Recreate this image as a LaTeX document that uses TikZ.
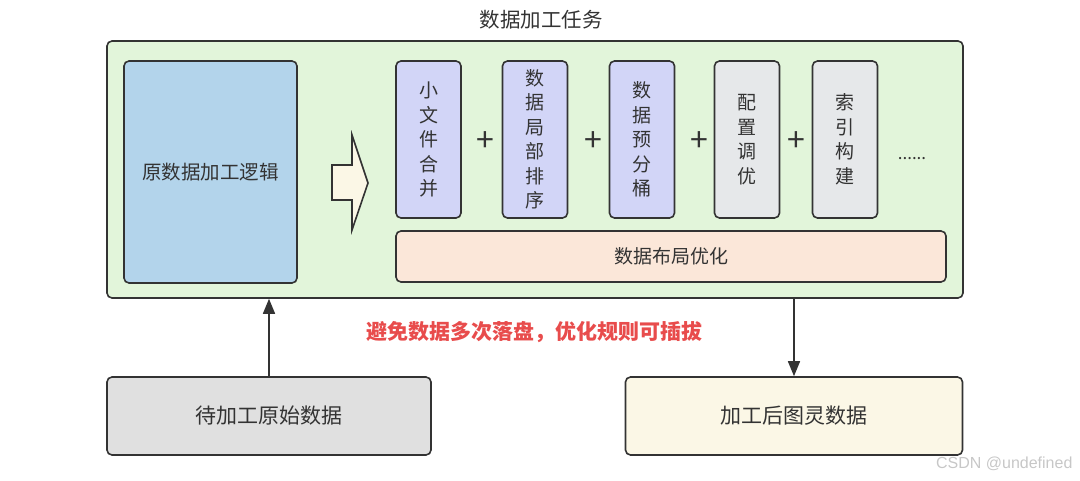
\documentclass[tikz,border=0pt]{standalone}
\usepackage{fontspec}
\setmainfont{Noto Sans CJK SC}
\newfontfamily\wmfont{Liberation Sans}
\usetikzlibrary{arrows.meta}
\definecolor{lc}{HTML}{333333}
\definecolor{greenbg}{HTML}{E2F5DA}
\definecolor{bluebg}{HTML}{B3D4EB}
\definecolor{lavbg}{HTML}{D2D5F7}
\definecolor{greybg}{HTML}{E6E8EA}
\definecolor{peachbg}{HTML}{FBE7D9}
\definecolor{creambg}{HTML}{FBF7E6}
\definecolor{graybox}{HTML}{E0E0E0}
\definecolor{redtxt}{HTML}{E84C4C}
\begin{document}
\begin{tikzpicture}[x=1pt,y=-1pt,
  box/.style={draw=lc, line width=1.6pt, rounded corners=5pt, text=lc, inner sep=0pt, align=center},
  vbox/.style={box, minimum width=65pt, minimum height=157pt, font=\fontsize{19}{24.5}\selectfont},
  plus/.style={text=lc, font=\fontsize{32}{32}\selectfont, inner sep=0pt},
  conn/.style={draw=lc, line width=1.6pt, -{Triangle[length=15pt,width=12pt]}}
]
\useasboundingbox (0,0) rectangle (1080,481);
\node[text=lc, font=\fontsize{20.5}{22}\selectfont] (title) at (541,20) {数据加工任务};
\node[box, fill=greenbg, minimum width=856pt, minimum height=257pt] (outer) at (535,169.5) {};
\node[box, fill=bluebg, minimum width=173pt, minimum height=222pt, font=\fontsize{19.5}{22}\selectfont] (orig) at (210.5,172) {原数据加工逻辑};
\draw[draw=lc, line width=1.6pt, fill=creambg, line join=miter]
  (332,165) -- (352,165) -- (352,135) -- (368,183) -- (352,230) -- (352,200) -- (332,200) -- cycle;
\node[vbox, fill=lavbg] (s1) at (428.5,139.5) {小\\文\\件\\合\\并};
\node[vbox, fill=lavbg] (s2) at (535,139.5) {数\\据\\局\\部\\排\\序};
\node[vbox, fill=lavbg] (s3) at (642,139.5) {数\\据\\预\\分\\桶};
\node[vbox, fill=greybg] (s4) at (747,139.5) {配\\置\\调\\优};
\node[vbox, fill=greybg] (s5) at (845,139.5) {索\\引\\构\\建};
\node[plus] (p1) at (485,142) {+};
\node[plus] (p2) at (593,142) {+};
\node[plus] (p3) at (699,142) {+};
\node[plus] (p4) at (796,142) {+};
\node[text=lc, font=\fontsize{17}{17}\selectfont] (dots) at (912,159) {......};
\node[box, fill=peachbg, minimum width=550pt, minimum height=51pt, font=\fontsize{19}{22}\selectfont] (bar) at (671,256.5) {数据布局优化};
\node[text=redtxt, font=\fontsize{21}{24}\selectfont\bfseries] (note) at (534,332) {避免数据多次落盘，优化规则可插拔};
\node[box, fill=graybox, minimum width=324pt, minimum height=78pt, font=\fontsize{21}{24}\selectfont] (src) at (269,416) {待加工原始数据};
\node[box, fill=creambg, minimum width=337pt, minimum height=78pt, font=\fontsize{21}{24}\selectfont] (dst) at (794,416) {加工后图灵数据};
\draw[conn] (src.north) -- (src.north |- outer.south);
\draw[conn] (outer.south -| dst.north) -- (dst.north);
\node[text=black!22, font=\wmfont\fontsize{16}{16}\selectfont, anchor=east] (wm) at (1076,464) {CSDN @undefined};
\end{tikzpicture}
\end{document}
